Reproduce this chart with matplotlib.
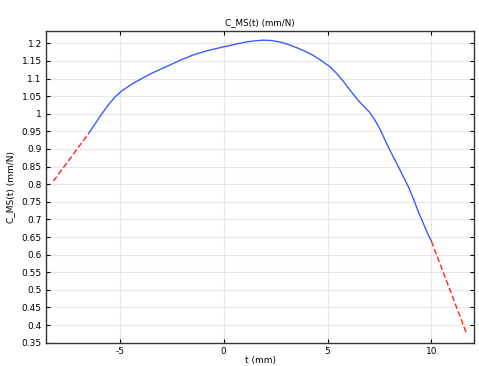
import matplotlib
matplotlib.use("Agg")
import matplotlib.pyplot as plt
from matplotlib.ticker import MultipleLocator, FuncFormatter

plt.rcParams["axes.unicode_minus"] = False

# Data
t_main = [-6.50, -6.18, -5.86, -5.54, -5.22, -4.90, -4.42, -3.94, -3.46, -2.98,
          -2.49, -2.01, -1.46, -0.80, 0.0, 0.77, 1.09, 1.50, 1.90, 2.30, 2.70,
          3.10, 3.50, 3.90, 4.30, 4.70, 5.11, 5.43, 5.75, 6.07, 6.39, 6.71,
          7.03, 7.27, 7.52, 7.84, 8.15, 8.40, 8.64, 8.88, 9.12, 9.36, 9.60,
          9.84, 10.0]
c_main = [0.944, 0.972, 1.000, 1.026, 1.048, 1.065, 1.084, 1.100, 1.115, 1.128,
          1.141, 1.154, 1.167, 1.179, 1.190, 1.200, 1.204, 1.207, 1.209, 1.208, 1.204,
          1.197, 1.188, 1.178, 1.166, 1.151, 1.134, 1.115, 1.093, 1.068, 1.044, 1.023,
          1.004, 0.983, 0.957, 0.916, 0.879, 0.851, 0.822, 0.794, 0.761, 0.723, 0.690,
          0.657, 0.638]
t_left = [-8.19, -6.50]
c_left = [0.809, 0.944]
t_right = [10.0, 11.71]
c_right = [0.638, 0.373]

fig = plt.figure(figsize=(4.79, 3.66), dpi=100)
ax = fig.add_axes([0.096, 0.0628, 0.8936, 0.8525])

ax.plot(t_main, c_main, color="#3a5cff", lw=1.0)
ax.plot(t_left, c_left, color="#ff2020", lw=1.0, ls=(0, (4, 2)))
ax.plot(t_right, c_right, color="#ff2020", lw=1.0, ls=(0, (4, 2)))

ax.set_xlim(-8.55, 12.05)
ax.set_ylim(0.349, 1.235)
ax.xaxis.set_major_locator(MultipleLocator(5))
ax.yaxis.set_major_locator(MultipleLocator(0.05))
ax.yaxis.set_major_formatter(FuncFormatter(lambda v, p: "%g" % round(v, 2)))
ax.grid(True, color="#e6e6e6", lw=0.8)
ax.set_axisbelow(True)
ax.tick_params(direction="in", top=True, right=True, labelsize=6.5, length=3, width=0.8, pad=3)
for s in ax.spines.values():
    s.set_linewidth(1.0)
    s.set_color("#333333")
ax.set_title("C_MS(t) (mm/N)", fontsize=6.3, pad=4)
ax.set_xlabel("t (mm)", fontsize=6.5, labelpad=0)
ax.set_ylabel("C_MS(t) (mm/N)", fontsize=6.5, labelpad=5)

fig.savefig("out.png", dpi=100)
